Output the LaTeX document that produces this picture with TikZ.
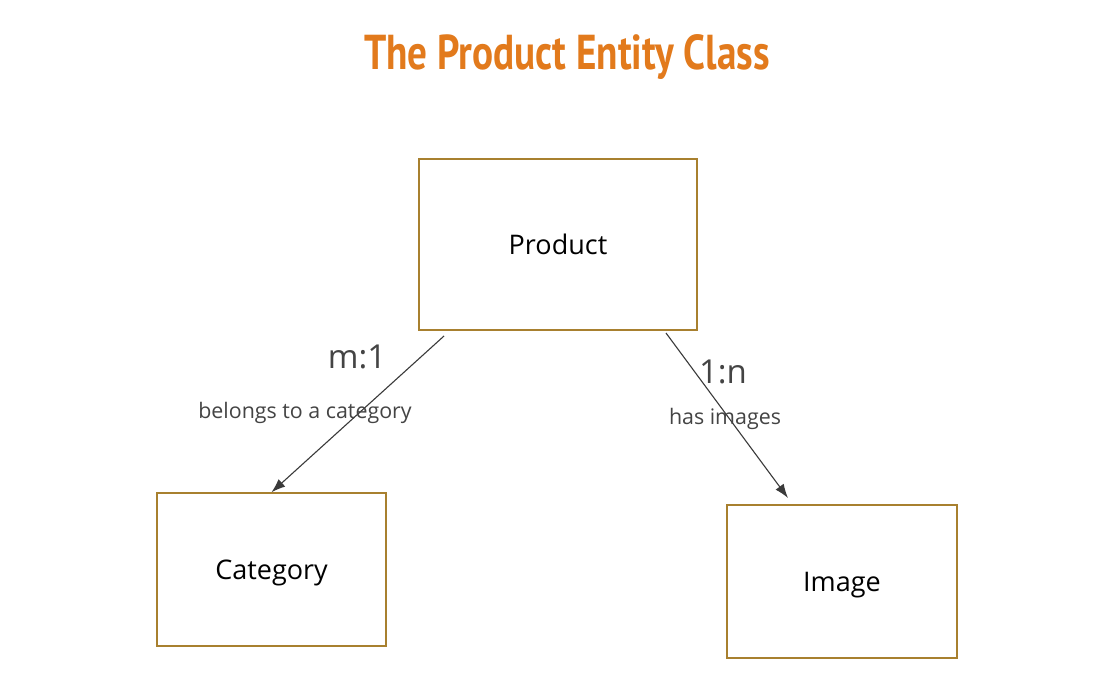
\documentclass[tikz,border=0pt]{standalone}
\usepackage{fontspec}
\setmainfont{Open Sans}
\newfontfamily\titlefont[FakeStretch=0.80]{PT Sans}
\usetikzlibrary{arrows.meta}
\definecolor{boxbrown}{HTML}{A8802F}
\definecolor{titleorange}{HTML}{E27A1C}
\definecolor{labelgray}{HTML}{444444}
\definecolor{arrowgray}{HTML}{3A3A3A}
\tikzset{
  entity/.style={draw=boxbrown, line width=1.4pt, fill=white, inner sep=0pt, text depth=0pt, font=\fontsize{27}{30}\selectfont},
  rel/.style={draw=arrowgray, line width=1.1pt, -{Latex[length=14pt,width=10pt]}},
  card/.style={text=labelgray, font=\fontsize{33}{38}\selectfont, inner sep=0pt},
  desc/.style={text=labelgray, font=\fontsize{21.4}{25}\selectfont, inner sep=0pt},
}
\begin{document}
\begin{tikzpicture}[x=1pt,y=-1pt]
\useasboundingbox[fill=white] (0,0) rectangle (1108,691);
\node[text=titleorange, font=\titlefont\bfseries\fontsize{49}{55}\selectfont, inner sep=0pt] (title) at (567,57) {The Product Entity Class};
\node[entity, minimum width=278pt, minimum height=171pt] (product) at (558,244.5) {Product};
\node[entity, minimum width=229pt, minimum height=153pt] (category) at (271.5,569.5) {Category};
\node[entity, minimum width=230pt, minimum height=153pt] (image) at (842,581.5) {Image};
\coordinate (p1) at (444,336);
\coordinate (p2) at (666,333);
\coordinate (imgtop) at (788,498);
\draw[rel] (p1) -- (category.north);
\draw[rel] (p2) -- (imgtop);
\node[card] (m1) at (357,357) {m:1};
\node[desc] (belongs) at (305,413) {belongs to a category};
\node[card] (onen) at (723,372) {1:n};
\node[desc] (hasimg) at (725,419) {has images};
\end{tikzpicture}
\end{document}
